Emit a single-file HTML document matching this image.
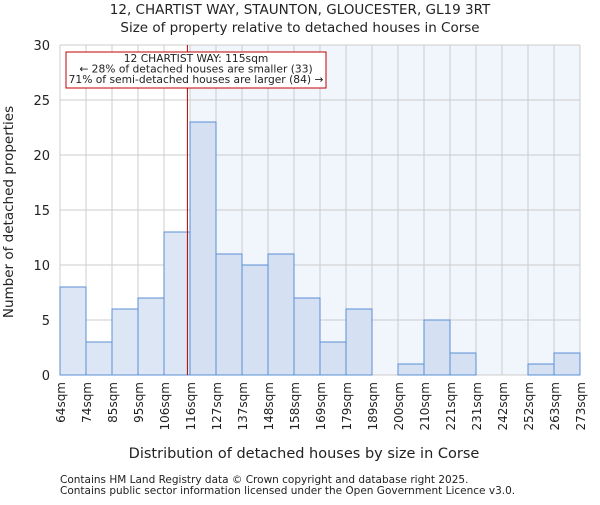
<!DOCTYPE html>
<html><head><meta charset="utf-8"><style>
body{margin:0;background:#fff;font-family:"Liberation Sans","DejaVu Sans",sans-serif}
svg text{font-family:"DejaVu Sans","Liberation Sans",sans-serif;fill:#222}
</style></head><body>
<svg id="c" width="600" height="500" xmlns="http://www.w3.org/2000/svg">
<text x="300" y="14" text-anchor="middle" font-size="13.5">12, CHARTIST WAY, STAUNTON, GLOUCESTER, GL19 3RT</text>
<text x="300" y="32" text-anchor="middle" font-size="13.5">Size of property relative to detached houses in Corse</text>
<g id="plot"></g>
<text x="304" y="458" text-anchor="middle" font-size="14.5">Distribution of detached houses by size in Corse</text>
<text transform="translate(13,212) rotate(-90)" text-anchor="middle" font-size="13.5">Number of detached properties</text>
<text x="60" y="483" font-size="10.5" fill="#444">Contains HM Land Registry data © Crown copyright and database right 2025.</text>
<text x="60" y="494" font-size="10.5" fill="#444">Contains public sector information licensed under the Open Government Licence v3.0.</text>
</svg>
<script>
const categories=["64sqm","74sqm","85sqm","95sqm","106sqm","116sqm","127sqm","137sqm","148sqm","158sqm","169sqm","179sqm","189sqm","200sqm","210sqm","221sqm","231sqm","242sqm","252sqm","263sqm","273sqm"];
const counts=[8,3,6,7,13,23,11,10,11,7,3,6,0,1,5,2,0,0,1,2];
const yTicks=[0,5,10,15,20,25,30];
const markerBin=4.9;
const X0=60,X1=580,Y0=375,Y1=45,YMAX=30;
const bw=(X1-X0)/counts.length;
const xs=i=>X0+i*bw;
const ys=v=>Y0-(Y0-Y1)*v/YMAX;
const NS="http://www.w3.org/2000/svg";
const g=document.getElementById('plot');
function mk(t,a){const e=document.createElementNS(NS,t);for(const k in a)e.setAttribute(k,a[k]);g.appendChild(e);return e;}
let e;
e=mk('rect',{x:xs(Math.ceil(markerBin)),y:Y1,width:X1-xs(Math.ceil(markerBin)),height:Y0-Y1,fill:'#f1f5fc'});


for(let i=0;i<=counts.length;i++){e=mk('line',{x1:xs(i),x2:xs(i),y1:Y1,y2:Y0,stroke:'#cccccc','stroke-width':1});

}
yTicks.forEach(t=>{e=mk('line',{x1:X0,x2:X1,y1:ys(t),y2:ys(t),stroke:'#cccccc','stroke-width':1});


e=mk('text',{x:X0-10,y:ys(t)+5,'text-anchor':'end','font-size':13});e.textContent=t;

});
counts.forEach((v,i)=>{if(v<=0)return;e=mk('rect',{x:xs(i),y:ys(v),width:bw,height:Y0-ys(v),fill:i<markerBin?'#dde6f4':'#d5e0f2',stroke:'#5a8fd5','stroke-width':1});

});
categories.forEach((c,i)=>{e=mk('text',{transform:`translate(${xs(i)+5},382) rotate(-90)`,'text-anchor':'end','font-size':12});e.textContent=c;

});
e=mk('line',{x1:xs(markerBin),x2:xs(markerBin),y1:Y1,y2:Y0,stroke:'#b00000','stroke-width':1});


e=mk('rect',{x:66,y:52,width:260,height:36,fill:'#fff',stroke:'#c00000','stroke-width':1});


["12 CHARTIST WAY: 115sqm","← 28% of detached houses are smaller (33)","71% of semi-detached houses are larger (84) →"].forEach((s,k)=>{e=mk('text',{x:196,y:62+k*10.5,'text-anchor':'middle','font-size':10.7});e.textContent=s;

});
</script>
</body></html>
